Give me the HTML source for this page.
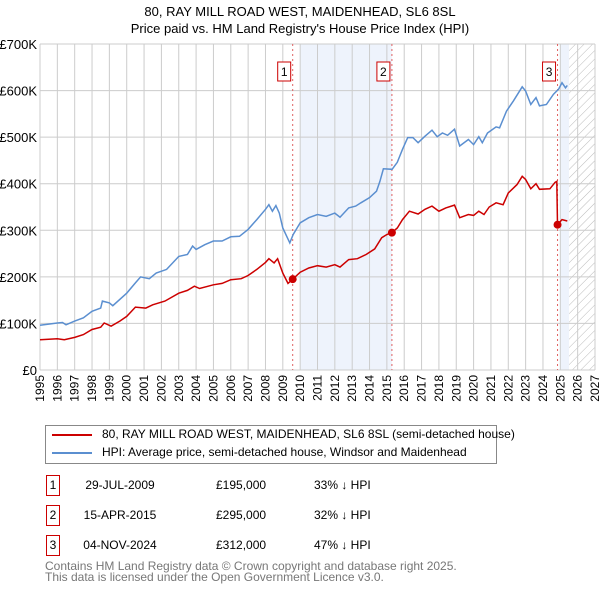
<!DOCTYPE html>
<html><head><meta charset="utf-8"><style>
body{margin:0;background:#fff;font-family:"Liberation Sans","DejaVu Sans",sans-serif;}
#wrap{position:relative;width:600px;height:590px;overflow:hidden;}
</style></head><body><div id="wrap">
<svg id="svg" width="600" height="590" xmlns="http://www.w3.org/2000/svg" font-family="Liberation Sans, DejaVu Sans, sans-serif">
<defs><pattern id="hatch" width="6" height="6" patternUnits="userSpaceOnUse" patternTransform="rotate(45)"><line x1="0" y1="0" x2="0" y2="6" stroke="#bbb" stroke-width="1"/></pattern></defs>
<text x="300" y="16" text-anchor="middle" font-size="13" fill="#000">80, RAY MILL ROAD WEST, MAIDENHEAD, SL6 8SL</text>
<text x="300" y="33" text-anchor="middle" font-size="13" fill="#000">Price paid vs. HM Land Registry's House Price Index (HPI)</text>
<g id="plot"></g>
</svg>
<div style="position:absolute;left:45px;top:425px;width:450px;height:37px;border:1px solid #888;font-size:12px;">
<div style="position:absolute;left:6px;top:8px;width:40px;height:2px;background:#cc0000;"></div>
<div style="position:absolute;left:56px;top:1px;white-space:nowrap;">80, RAY MILL ROAD WEST, MAIDENHEAD, SL6 8SL (semi-detached house)</div>
<div style="position:absolute;left:6px;top:26px;width:40px;height:2px;background:#5b8fd0;"></div>
<div style="position:absolute;left:56px;top:19px;white-space:nowrap;">HPI: Average price, semi-detached house, Windsor and Maidenhead</div>
</div>
<div id="table" style="font-size:12px;"></div>
<div style="position:absolute;left:45px;top:561px;font-size:12px;color:#777;line-height:11px;">Contains HM Land Registry data © Crown copyright and database right 2025.<br>This data is licensed under the Open Government Licence v3.0.</div>
</div>
<script>
const hpiYears=[1995,1996,1996.3,1996.5,1997,1997.5,1998,1998.5,1998.6,1999,1999.2,2000,2000.5,2000.8,2001.3,2001.7,2002.3,2003,2003.5,2003.8,2004,2004.5,2005,2005.5,2006,2006.5,2007,2007.5,2008,2008.2,2008.4,2008.6,2008.8,2009,2009.4,2009.6,2010,2010.5,2011,2011.5,2012,2012.3,2012.8,2013.2,2013.5,2014,2014.4,2014.6,2014.8,2015.3,2015.6,2015.9,2016.2,2016.5,2016.8,2017.2,2017.6,2017.9,2018.2,2018.5,2018.9,2019.2,2019.7,2020,2020.3,2020.5,2020.8,2021.3,2021.5,2021.9,2022.3,2022.8,2023,2023.3,2023.6,2023.8,2024.2,2024.6,2024.9,2025.1,2025.3,2025.4];
const hpiValues=[96,101,102,97,105,112,126,133,148,144,138,165,187,200,196,208,216,244,248,266,259,269,277,277,286,287,302,323,345,355,341,353,337,305,273,291,316,327,334,330,337,328,348,352,359,370,384,405,432,431,446,474,499,499,488,502,515,501,509,504,517,481,495,484,501,488,509,522,520,556,578,608,599,570,585,567,570,592,603,617,606,611];
const propYears=[1995,1996,1996.4,1997,1997.5,1998,1998.5,1998.7,1999.1,1999.6,2000,2000.5,2001.1,2001.5,2002.2,2003,2003.5,2003.9,2004.2,2005,2005.5,2006,2006.6,2007,2007.5,2008,2008.2,2008.5,2008.7,2009,2009.3,2009.57,2010,2010.5,2011,2011.5,2012,2012.3,2012.8,2013.3,2013.8,2014.3,2014.7,2015,2015.29,2015.6,2015.9,2016.3,2016.8,2017.2,2017.6,2018,2018.4,2018.9,2019.2,2019.7,2020,2020.3,2020.6,2020.9,2021.3,2021.7,2022,2022.5,2022.8,2023,2023.3,2023.6,2023.8,2024.4,2024.7,2024.8,2024.84,2025.1,2025.4];
const propValues=[65,67,65,70,76,87,92,101,94,105,115,135,133,140,148,165,171,180,175,183,186,194,196,203,216,231,239,230,239,208,186,195,210,219,224,221,226,221,237,239,248,260,284,291,295,305,323,341,335,345,352,341,348,354,327,334,332,341,334,350,359,355,380,398,416,409,389,400,388,389,403,405,312,323,320];
const saleLabels=["1","2","3"];
const saleYears=[2009.57,2015.29,2024.84];
const saleValues=[195,295,312];
const saleDates=["29-JUL-2009","15-APR-2015","04-NOV-2024"];
const salePrices=["£195,000","£295,000","£312,000"];
const saleDiffs=["33% ↓ HPI","32% ↓ HPI","47% ↓ HPI"];
const yTicks=[0,100,200,300,400,500,600,700];
const yTickLabels=["£0","£100K","£200K","£300K","£400K","£500K","£600K","£700K"];
const xTicks=[1995,1996,1997,1998,1999,2000,2001,2002,2003,2004,2005,2006,2007,2008,2009,2010,2011,2012,2013,2014,2015,2016,2017,2018,2019,2020,2021,2022,2023,2024,2025,2026,2027];

const L=40,R=595,T=44,B=370,x0=1995,x1=2027,vmax=700;
const X=y=>L+(y-x0)/(x1-x0)*(R-L);
const Y=v=>B-v/vmax*(B-T);
const NS="http://www.w3.org/2000/svg";
const g=document.getElementById('plot');
function mk(t,a,p){const e=document.createElementNS(NS,t);for(const k in a)e.setAttribute(k,a[k]);(p||g).appendChild(e);return e;}
let e=mk('rect',{x:X(2010),y:T,width:X(2015.29)-X(2010),height:B-T,fill:'#eef3fc'});


e=mk('rect',{x:X(2025),y:T,width:X(2025.5)-X(2025),height:B-T,fill:'#eef3fc'});


e=mk('rect',{x:X(2025.5),y:T,width:R-X(2025.5),height:B-T,fill:'url(#hatch)'});


xTicks.forEach((t,i)=>{
  const l=mk('line',{x1:X(t),x2:X(t),y1:T,y2:B,stroke:'#ccc','stroke-width':1});
  
  
  const tx=mk('text',{x:0,y:0,'font-size':12,fill:'#000','text-anchor':'end',transform:`translate(${X(t)+4},${B+5}) rotate(-90)`});
  tx.textContent=t;
  
  
});
yTicks.forEach((t,i)=>{
  const l=mk('line',{x1:L,x2:R,y1:Y(t),y2:Y(t),stroke:'#ccc','stroke-width':1});
  
  
  const tx=mk('text',{x:L-3,y:Y(t)+5,'font-size':13,fill:'#000','text-anchor':'end'});
  tx.textContent=yTickLabels[i];
  
  
});
saleYears.forEach((s,i)=>{
  const l=mk('line',{x1:X(s),x2:X(s),y1:T,y2:B,stroke:'#e06060','stroke-width':1,'stroke-dasharray':'2,3'});
  
  
  const r=mk('rect',{x:X(s)-15,y:62,width:13,height:19,fill:'#fff',stroke:'#cc0000'});
  
  
  const tx=mk('text',{x:X(s)-8.5,y:76,'font-size':12,'text-anchor':'middle',fill:'#000'});
  tx.textContent=saleLabels[i];
  
  
});
const pts=(xs,vs)=>xs.map((y,i)=>X(y).toFixed(1)+','+Y(vs[i]).toFixed(1)).join(' ');
e=mk('polyline',{points:pts(hpiYears,hpiValues),fill:'none',stroke:'#5b8fd0','stroke-width':1.5});


e=mk('polyline',{points:pts(propYears,propValues),fill:'none',stroke:'#cc0000','stroke-width':1.5});


saleYears.forEach((s,i)=>{
  const c=mk('circle',{cx:X(s),cy:Y(saleValues[i]),r:4,fill:'#cc0000'});
  
  
});
const tb=document.getElementById('table');
saleLabels.forEach((s,i)=>{
  const top=475+i*30;
  const row=document.createElement('div');
  
  
  row.style.cssText=`position:absolute;left:0;top:${top}px;width:600px;height:22px;font-size:12px;`;
  row.innerHTML=`<div style="position:absolute;left:46px;top:0;width:12px;height:19px;border:1px solid #cc0000;text-align:center;line-height:19px;">${s}</div>`+
  `<div style="position:absolute;left:80px;width:80px;text-align:center;top:3px;">${saleDates[i]}</div>`+
  `<div style="position:absolute;left:216px;top:3px;">${salePrices[i]}</div>`+
  `<div style="position:absolute;left:314px;top:3px;">${saleDiffs[i]}</div>`;
  tb.appendChild(row);
});
</script>
</body></html>
